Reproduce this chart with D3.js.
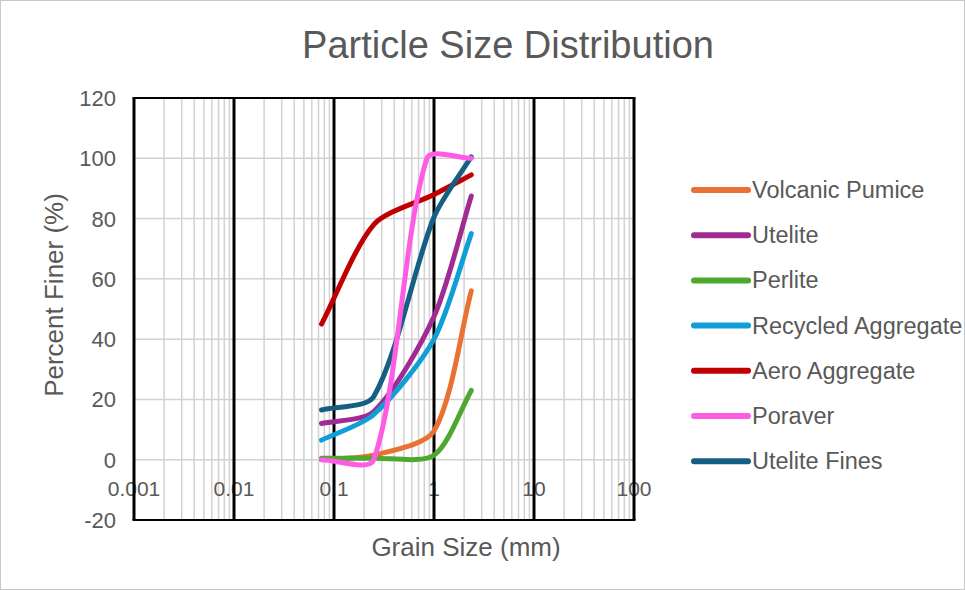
<!DOCTYPE html>
<html>
<head>
<meta charset="utf-8">
<script src="https://cdn.jsdelivr.net/npm/d3@7"></script>
<style>
  body { margin: 0; background: #fff; }
  svg text { font-family: "Liberation Sans", Arial, sans-serif; fill: #595959; }
</style>
</head>
<body>
<script>
// sieve sizes (mm) and percent finer per material
const sieveSizes = [0.075, 0.25, 1, 2.36];
const poraverSizes = [0.075, 0.25, 0.85, 2.36];

const volcanicPumice = [0, 1.5, 9.5, 56];
const utelite = [12, 16, 47.5, 87.5];
const perlite = [0.5, 0.5, 1.5, 23];
const recycledAggregate = [6.5, 15, 40, 75];
const aeroAggregate = [45, 78, 88, 94.5];
const poraver = [0, 0, 100, 100];
const uteliteFines = [16.5, 21, 80.5, 100.5];

const seriesNames = ["Volcanic Pumice", "Utelite", "Perlite", "Recycled Aggregate",
  "Aero Aggregate", "Poraver", "Utelite Fines"];
const seriesColors = ["#E97132", "#A02B93", "#4EA72E", "#0F9ED5", "#C00000", "#FF5CE6", "#156082"];

const xTicks = [0.001, 0.01, 0.1, 1, 10, 100];
const yTicks = [-20, 0, 20, 40, 60, 80, 100, 120];

const series = [
  { sizes: sieveSizes, values: volcanicPumice },
  { sizes: sieveSizes, values: utelite },
  { sizes: sieveSizes, values: perlite },
  { sizes: sieveSizes, values: recycledAggregate },
  { sizes: sieveSizes, values: aeroAggregate },
  { sizes: poraverSizes, values: poraver },
  { sizes: sieveSizes, values: uteliteFines }
].map((s, i) => ({
  name: seriesNames[i],
  color: seriesColors[i],
  points: s.sizes.map((x, j) => ({ x, y: s.values[j] }))
}));

const width = 965;
const height = 590;
const margin = { top: 98, right: 331, bottom: 70, left: 134 };

const x = d3.scaleLog()
  .domain([0.001, 100])
  .range([margin.left, width - margin.right]);

const y = d3.scaleLinear()
  .domain([-20, 120])
  .range([height - margin.bottom, margin.top]);

/** Spreadsheet-style smoothed line: bezier with chord-weighted tangents. */
function smoothPath(pts, k = 0.27) {
  const p = d3.path();
  const dist = (a, b) => Math.hypot(b[0] - a[0], b[1] - a[1]);
  const n = pts.length;
  p.moveTo(pts[0][0], pts[0][1]);
  for (let i = 0; i < n - 1; i++) {
    const p0 = pts[Math.max(i - 1, 0)], p1 = pts[i], p2 = pts[i + 1], p3 = pts[Math.min(i + 2, n - 1)];
    const d01 = dist(p0, p1), d12 = dist(p1, p2), d23 = dist(p2, p3);
    const f1 = d12 / (d01 + d12) * k;
    const f2 = d12 / (d12 + d23) * k;
    p.bezierCurveTo(
      p1[0] + (p2[0] - p0[0]) * f1, p1[1] + (p2[1] - p0[1]) * f1,
      p2[0] - (p3[0] - p1[0]) * f2, p2[1] - (p3[1] - p1[1]) * f2,
      p2[0], p2[1]);
  }
  return p.toString();
}

const svg = d3.select("body").append("svg")
  .attr("width", width)
  .attr("height", height);

svg.append("rect")
  .attr("x", 0.5).attr("y", 0.5)
  .attr("width", width - 1).attr("height", height - 1)
  .attr("fill", "#fff")
  .attr("stroke", "#c8c8c8");

// title
svg.append("text")
  .attr("x", 508)
  .attr("y", 58)
  .attr("text-anchor", "middle")
  .attr("font-size", 38)
  .text("Particle Size Distribution");

// minor grid
const minor = [];
for (let d = 0.001; d < 100; d *= 10) {
  for (let k = 2; k <= 9; k++) minor.push(d * k);
}
svg.append("g")
  .attr("stroke", "#d2d2d2")
  .attr("stroke-width", 1.5)
  .selectAll("line")
  .data(minor)
  .join("line")
  .attr("x1", d => x(d)).attr("x2", d => x(d))
  .attr("y1", y(120)).attr("y2", y(-20));

svg.append("g")
  .attr("stroke", "#d2d2d2")
  .attr("stroke-width", 1.5)
  .selectAll("line")
  .data(yTicks.filter(d => d > -20 && d < 120))
  .join("line")
  .attr("x1", x(0.001)).attr("x2", x(100))
  .attr("y1", d => y(d)).attr("y2", d => y(d));

// x tick labels (sit under the major lines)
svg.append("g")
  .attr("font-size", 21)
  .attr("text-anchor", "middle")
  .selectAll("text")
  .data(xTicks)
  .join("text")
  .attr("x", d => x(d))
  .attr("y", y(0) + 36)
  .text(d => String(d));

// major decade lines
svg.append("g")
  .attr("stroke", "#000")
  .attr("stroke-width", 3)
  .selectAll("line")
  .data(xTicks)
  .join("line")
  .attr("x1", d => x(d)).attr("x2", d => x(d))
  .attr("y1", y(120)).attr("y2", y(-20));

svg.append("g")
  .attr("stroke", "#000")
  .attr("stroke-width", 2)
  .selectAll("line")
  .data([-20, 120])
  .join("line")
  .attr("x1", x(0.001) - 1.5).attr("x2", x(100) + 1.5)
  .attr("y1", d => y(d)).attr("y2", d => y(d));

// y tick labels
svg.append("g")
  .attr("font-size", 22)
  .attr("text-anchor", "end")
  .selectAll("text")
  .data(yTicks)
  .join("text")
  .attr("x", margin.left - 18)
  .attr("y", d => y(d) + 8)
  .text(d => d);

// axis titles
svg.append("text")
  .attr("x", 466)
  .attr("y", 556)
  .attr("text-anchor", "middle")
  .attr("font-size", 26)
  .text("Grain Size (mm)");

svg.append("text")
  .attr("transform", "translate(63,295) rotate(-90)")
  .attr("text-anchor", "middle")
  .attr("font-size", 26)
  .text("Percent Finer (%)");

// series
const drawOrder = [0, 1, 2, 3, 4, 6, 5];
svg.append("g")
  .attr("fill", "none")
  .attr("stroke-width", 5)
  .attr("stroke-linecap", "round")
  .attr("stroke-linejoin", "round")
  .selectAll("path")
  .data(drawOrder.map(i => series[i]))
  .join("path")
  .attr("stroke", d => d.color)
  .attr("d", d => smoothPath(d.points.map(q => [x(q.x), y(q.y)])));

// legend
const legend = svg.append("g")
  .selectAll("g")
  .data(series)
  .join("g")
  .attr("transform", (d, i) => `translate(692,${190 + i * 45.2})`);

legend.append("line")
  .attr("x1", 2).attr("x2", 56)
  .attr("stroke", d => d.color)
  .attr("stroke-width", 6)
  .attr("stroke-linecap", "round");

legend.append("text")
  .attr("x", 60)
  .attr("y", 8)
  .attr("font-size", 23.5)
  .text(d => d.name);
</script>
</body>
</html>
